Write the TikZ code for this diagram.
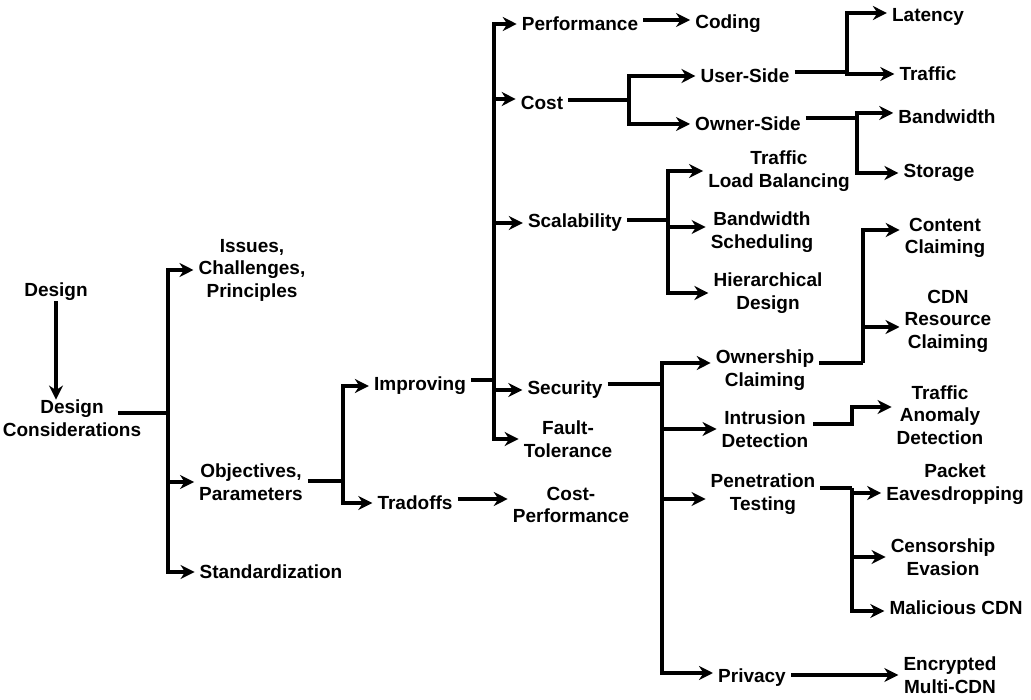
\documentclass[tikz,border=0pt]{standalone}
\usepackage{fontspec}
\setmainfont{Liberation Sans}
\usetikzlibrary{arrows.meta,calc}

\begin{document}
\begin{tikzpicture}[x=1pt,y=-1pt,
  lbl/.style={font=\bfseries\fontsize{19}{22.5}\selectfont, align=center, inner xsep=5pt, inner ysep=0pt},
  ln/.style={line width=3.2pt},
  arr/.style={ln, -{Stealth[length=14pt,width=14pt,inset=4.5pt]}}]
\useasboundingbox (0,0) rectangle (1031,700);

% ---- nodes ----
\node[lbl] (design)   at (56,292)  {Design};
\node[lbl] (dc)       at (72,418)  {Design\\Considerations};
\node[lbl] (issues)   at (252,270) {Issues,\\Challenges,\\Principles};
\node[lbl] (obj)      at (251,482) {Objectives,\\Parameters};
\node[lbl] (std)      at (271,572) {Standardization};
\node[lbl] (impr)     at (420,386) {Improving};
\node[lbl] (trad)     at (415,503) {Tradoffs};
\node[lbl] (costperf) at (571,505) {Cost-\\Performance};
\node[lbl] (perf)     at (580,24)  {Performance};
\node[lbl] (coding)   at (728,24)  {Coding};
\node[lbl] (cost)     at (542,103) {Cost};
\node[lbl] (user)     at (745,76)  {User-Side};
\node[lbl] (owner)    at (748,124) {Owner-Side};
\node[lbl] (latency)  at (928,17)  {Latency};
\node[lbl] (traffic)  at (928,74)  {Traffic};
\node[lbl] (bandw)    at (947,117) {Bandwidth};
\node[lbl] (storage)  at (939,173) {Storage};
\node[lbl] (scal)     at (575,223) {Scalability};
\node[lbl] (tlb)      at (779,171) {Traffic\\Load Balancing};
\node[lbl] (bs)       at (762,232) {Bandwidth\\Scheduling};
\node[lbl] (hd)       at (768,293) {Hierarchical\\Design};
\node[lbl] (sec)      at (565,390) {Security};
\node[lbl] (ft)       at (568,439) {Fault-\\Tolerance};
\node[lbl] (own)      at (765,370) {Ownership\\Claiming};
\node[lbl] (intr)     at (765,429) {Intrusion\\Detection};
\node[lbl] (pen)      at (763,494) {Penetration\\Testing};
\node[lbl] (priv)     at (752,678) {Privacy};
\node[lbl] (content)  at (945,238) {Content\\Claiming};
\node[lbl] (cdnres)   at (948,321) {CDN\\Resource\\Claiming};
\node[lbl] (tad)      at (940,415) {Traffic\\Anomaly\\Detection};
\node[lbl] (packet)   at (955,484) {Packet\\Eavesdropping};
\node[lbl] (cens)     at (943,557) {Censorship\\Evasion};
\node[lbl] (mal)      at (956,608) {Malicious CDN};
\node[lbl] (enc)      at (950,675) {Encrypted\\Multi-CDN};

% ---- junctions ----
\coordinate (j0)     at (168,413);
\coordinate (j1)     at (343,481);
\coordinate (j2)     at (494,380);
\coordinate (jcost)  at (629,100);
\coordinate (juser)  at (847,72);
\coordinate (jowner) at (857,118);
\coordinate (jscal)  at (668,220);
\coordinate (jsec)   at (662,384);
\coordinate (jown)   at (863,363);
\coordinate (jint)   at (852,424);
\coordinate (jpen)   at (852,488);
\coordinate (ltrad)  at (0,499);

% ---- connectors ----
\draw[arr] (design.south) -- (design.south |- dc.north);

\draw[ln] ($(dc.east)+(-28,-5)$) -- (j0);
\draw[arr] (j0) |- (issues.west);
\draw[arr] (j0) |- (obj.west);
\draw[arr] (j0) |- (std.west);

\draw[ln] (obj.east |- j1) -- (j1);
\draw[arr] (j1) |- (impr.west);
\draw[arr] (j1) |- (trad.west);

\draw[arr] (trad.east |- ltrad) -- (costperf.west |- ltrad);

\draw[ln] (impr.east |- j2) -- (j2);
\draw[arr] (j2) |- (perf.west);
\draw[arr] (j2) |- ([yshift=4pt]cost.west);
\draw[arr] (j2) |- (scal.west);
\draw[arr] (j2) |- (sec.west);
\draw[arr] (j2) |- (ft.west);

\draw[arr] ([yshift=4pt]perf.east) -- ([yshift=4pt]perf.east -| coding.west);

\draw[ln] (cost.east |- jcost) -- (jcost);
\draw[arr] (jcost) |- (user.west);
\draw[arr] (jcost) |- (owner.west);

\draw[ln] (user.east |- juser) -- (juser);
\draw[arr] (juser) |- ([yshift=4pt]latency.west);
\draw[arr] (juser) |- (traffic.west);

\draw[ln] (owner.east |- jowner) -- (jowner);
\draw[arr] (jowner) |- ([yshift=4pt]bandw.west);
\draw[arr] (jowner) |- (storage.west);

\draw[ln] (scal.east |- jscal) -- (jscal);
\draw[arr] (jscal) |- (tlb.west);
\draw[arr] (jscal) |- ([yshift=5pt]bs.west);
\draw[arr] (jscal) |- (hd.west);

\draw[ln] (sec.east |- jsec) -- (jsec);
\draw[arr] (jsec) |- ([yshift=7pt]own.west);
\draw[arr] (jsec) |- (intr.west);
\draw[arr] (jsec) |- ([yshift=-5pt]pen.west);
\draw[arr] (jsec) |- ([yshift=5pt]priv.west);

\draw[ln] (own.east |- jown) -- (jown);
\draw[arr] (jown) |- ([yshift=8pt]content.west);
\draw[arr] (jown) |- ([yshift=-6pt]cdnres.west);

\draw[arr] (intr.east |- jint) -- (jint) |- ([yshift=8pt]tad.west);

\draw[ln] (pen.east |- jpen) -- (jpen);
\draw[arr] (jpen) |- ([yshift=-9pt]packet.west);
\draw[arr] (jpen) |- (cens.west);
\draw[arr] (jpen) |- ([yshift=-3pt]mal.west);

\draw[arr] ([yshift=3pt]priv.east) -- ([yshift=3pt]priv.east -| enc.west);
\end{tikzpicture}
\end{document}
